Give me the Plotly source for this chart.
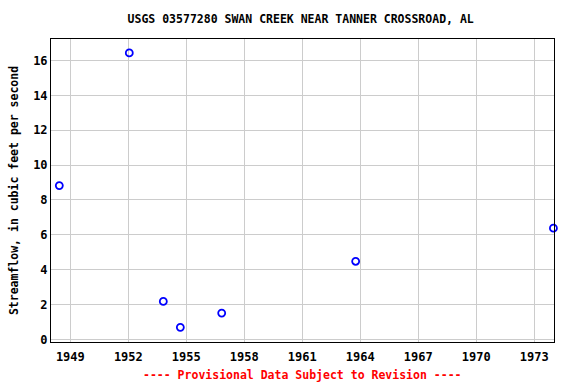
import plotly.graph_objects as go

years = [1948.43, 1952.05, 1953.81, 1954.69, 1956.83, 1963.76, 1973.99]
flows = [8.82, 16.43, 2.18, 0.69, 1.51, 4.48, 6.38]
x_ticks = [1949, 1952, 1955, 1958, 1961, 1964, 1967, 1970, 1973]
y_ticks = [0, 2, 4, 6, 8, 10, 12, 14, 16]

font_fam = "DejaVu Sans Mono"

fig = go.Figure()
fig.add_trace(go.Scatter(
    x=years, y=flows, mode="markers",
    marker=dict(symbol="circle-open", size=7, color="#0000ff", line=dict(width=1.8, color="#0000ff")),
    cliponaxis=False, showlegend=False,
))

fig.update_layout(
    width=576, height=384,
    margin=dict(l=51, r=22, t=39, b=42),
    paper_bgcolor="white", plot_bgcolor="white",
    title=dict(text="<b>USGS 03577280 SWAN CREEK NEAR TANNER CROSSROAD, AL</b>",
               x=0.522, xanchor="center",
               y=1 - 19 / 384, yanchor="middle",
               font=dict(family=font_fam, size=11.5, color="black")),
    font=dict(family=font_fam, size=12, color="black"),
)
fig.update_xaxes(
    range=[1948.0, 1974.02], tickvals=x_ticks, ticktext=[f"<b>{v}</b>" for v in x_ticks],
    showgrid=True, gridcolor="#cccccc", gridwidth=1,
    showline=True, linecolor="black", linewidth=1, mirror=True,
    zeroline=False, ticks="outside", ticklen=4, tickcolor="white",
    tickfont=dict(family=font_fam, size=12, color="black"),
)
fig.update_yaxes(
    range=[-0.15, 17.23], tickvals=y_ticks, ticktext=[f"<b>{v}</b>" for v in y_ticks],
    showgrid=True, gridcolor="#cccccc", gridwidth=1,
    showline=True, linecolor="black", linewidth=1, mirror=True,
    zeroline=False, ticks="", ticklen=0,
    tickfont=dict(family=font_fam, size=12, color="black"),
    title=dict(text="<b>Streamflow, in cubic feet per second</b>",
               font=dict(family=font_fam, size=11.5, color="black"), standoff=12),
)
fig.add_annotation(
    text="<b>---- Provisional Data Subject to Revision ----</b>",
    xref="paper", yref="paper", x=0.5, y=-(375 - 342) / (384 - 39 - 42),
    xanchor="center", yanchor="middle", showarrow=False,
    font=dict(family=font_fam, size=11.5, color="red"),
)

fig.write_html("out.html")
